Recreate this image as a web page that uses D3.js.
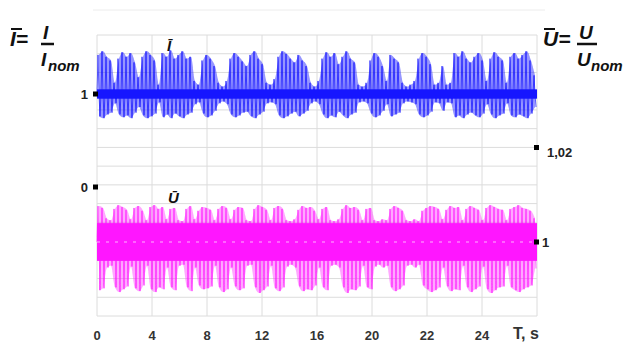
<!DOCTYPE html>
<html>
<head>
<meta charset="utf-8">
<script src="https://cdn.jsdelivr.net/npm/d3@7"></script>
<style>
  body { margin: 0; background: #fff; }
  text { font-family: "Liberation Sans", Arial, sans-serif; }
</style>
</head>
<body>
<div id="container"></div>
<script>
/* CONSTANTS AND GLOBALS */
const width = 634, height = 344;

/* DATA */
// x axis: 8 grid divisions, labels as printed
const xTickLabels = ["0", "4", "8", "12", "16", "20", "22", "24"];
const xTitle = "T, s";

// left axis marks (current, per unit) and right axis marks (voltage, per unit)
const iMarks = [1, 0];
const iMarkLabels = ["1", "0"];
const uMarks = [1.02, 1];
const uMarkLabels = ["1,02", "1"];

// current envelope, 110 bins across the record (upper / lower spike extent)
const iHi = [1.42,1.46,1.40,1.36,1.12,1.38,1.45,1.40,1.44,1.34,
  1.18,1.40,1.46,1.42,1.36,1.10,1.44,1.40,1.47,1.38,
  1.42,1.46,1.38,1.40,1.14,1.10,1.36,1.42,1.38,1.30,
  1.12,1.08,1.14,1.38,1.44,1.40,1.35,1.30,1.42,1.46,
  1.38,1.32,1.12,1.10,1.16,1.40,1.46,1.43,1.38,1.34,
  1.42,1.36,1.30,1.12,1.08,1.14,1.38,1.45,1.40,1.44,
  1.32,1.40,1.46,1.38,1.34,1.10,1.08,1.12,1.36,1.44,
  1.40,1.30,1.14,1.42,1.38,1.34,1.12,1.08,1.10,1.14,
  1.38,1.44,1.40,1.32,1.10,1.12,1.30,1.10,1.12,1.44,
  1.40,1.46,1.38,1.34,1.40,1.44,1.36,1.14,1.38,1.45,
  1.40,1.36,1.12,1.40,1.44,1.38,1.42,1.46,1.36,1.20];
const iLo = [0.76,0.74,0.78,0.80,0.90,0.78,0.75,0.77,0.74,0.80,
  0.86,0.77,0.74,0.76,0.79,0.91,0.75,0.78,0.74,0.79,
  0.76,0.74,0.78,0.80,0.89,0.91,0.79,0.75,0.77,0.82,
  0.90,0.92,0.89,0.78,0.75,0.77,0.80,0.81,0.76,0.74,
  0.78,0.81,0.90,0.91,0.89,0.77,0.74,0.76,0.79,0.81,
  0.76,0.79,0.82,0.90,0.92,0.89,0.78,0.74,0.77,0.75,
  0.81,0.77,0.74,0.78,0.80,0.91,0.92,0.90,0.79,0.75,
  0.77,0.82,0.89,0.76,0.78,0.80,0.90,0.92,0.91,0.89,
  0.78,0.75,0.77,0.81,0.91,0.90,0.82,0.91,0.90,0.75,
  0.77,0.74,0.78,0.80,0.77,0.75,0.79,0.89,0.78,0.74,
  0.77,0.79,0.90,0.77,0.75,0.78,0.76,0.74,0.79,0.86];
const iCore = 0.05;

// voltage envelope, 110 bins
const uHi = [1.0076,1.0072,1.0050,1.0046,1.0070,1.0078,1.0074,1.0068,1.0048,1.0072,
  1.0076,1.0066,1.0046,1.0074,1.0078,1.0070,1.0074,1.0048,1.0070,1.0072,
  1.0046,1.0044,1.0070,1.0076,1.0048,1.0066,1.0074,1.0072,1.0068,1.0046,
  1.0070,1.0076,1.0072,1.0048,1.0068,1.0074,1.0072,1.0046,1.0044,1.0070,
  1.0078,1.0074,1.0068,1.0046,1.0072,1.0076,1.0070,1.0046,1.0044,1.0048,
  1.0068,1.0076,1.0072,1.0074,1.0066,1.0048,1.0070,1.0074,1.0046,1.0044,
  1.0048,1.0070,1.0078,1.0072,1.0074,1.0068,1.0046,1.0070,1.0072,1.0046,
  1.0044,1.0048,1.0046,1.0070,1.0076,1.0072,1.0066,1.0046,1.0044,1.0048,
  1.0044,1.0066,1.0072,1.0076,1.0074,1.0070,1.0048,1.0068,1.0076,1.0072,
  1.0074,1.0046,1.0070,1.0076,1.0072,1.0068,1.0046,1.0072,1.0078,1.0074,
  1.0070,1.0068,1.0046,1.0070,1.0074,1.0078,1.0072,1.0070,1.0066,1.0050];
const uLo = [0.9898,0.9902,0.9946,0.9950,0.9904,0.9894,0.9900,0.9906,0.9948,0.9902,
  0.9896,0.9908,0.9950,0.9900,0.9894,0.9904,0.9900,0.9946,0.9904,0.9898,
  0.9950,0.9952,0.9904,0.9896,0.9946,0.9908,0.9900,0.9902,0.9906,0.9950,
  0.9904,0.9894,0.9900,0.9946,0.9906,0.9898,0.9902,0.9950,0.9952,0.9904,
  0.9892,0.9898,0.9906,0.9950,0.9902,0.9896,0.9904,0.9948,0.9952,0.9946,
  0.9906,0.9896,0.9900,0.9898,0.9908,0.9946,0.9904,0.9898,0.9950,0.9952,
  0.9946,0.9904,0.9892,0.9900,0.9898,0.9906,0.9950,0.9904,0.9900,0.9948,
  0.9952,0.9946,0.9950,0.9904,0.9896,0.9900,0.9908,0.9950,0.9952,0.9946,
  0.9952,0.9908,0.9900,0.9894,0.9898,0.9904,0.9946,0.9906,0.9896,0.9900,
  0.9898,0.9950,0.9904,0.9894,0.9900,0.9906,0.9948,0.9900,0.9892,0.9898,
  0.9904,0.9906,0.9950,0.9904,0.9898,0.9894,0.9900,0.9904,0.9908,0.9944];
const uCore = 0.0040;

const nBins = iHi.length;
const nDiv = 8;

/* SCALES */
const xScale = d3.scaleLinear().domain([0, nDiv]).range([97, 537]);
const yI = d3.scaleLinear().domain([0, 1]).range([187, 94]);
const yU = d3.scaleLinear().domain([1, 1.02]).range([242, 147.5]);
const gridY = d3.scaleLinear().domain([0, 15]).range([35, 316]);
const binX = k => xScale((k + 0.5) * nDiv / nBins);

// CREATE SVG ELEMENT
const svg = d3.select("#container")
  .append("svg")
  .attr("width", width)
  .attr("height", height);

const defs = svg.append("defs");
defs.append("filter").attr("id", "soft")
  .append("feGaussianBlur").attr("stdDeviation", 0.7);

// GRID
svg.append("line")
  .attr("x1", 93).attr("x2", 545).attr("y1", 10).attr("y2", 10)
  .attr("stroke", "#ececec");

svg.append("g")
  .selectAll("line")
  .data(d3.range(16))
  .join("line")
  .attr("x1", xScale(0)).attr("x2", xScale(nDiv))
  .attr("y1", d => gridY(d)).attr("y2", d => gridY(d))
  .attr("stroke", "#dcdcdc");

svg.append("g")
  .selectAll("line")
  .data(d3.range(nDiv + 1))
  .join("line")
  .attr("x1", d => xScale(d)).attr("x2", d => xScale(d))
  .attr("y1", gridY(0)).attr("y2", gridY(15))
  .attr("stroke", "#dcdcdc");

// SIGNAL DRAWING
function drawSignal(hi, lo, core, center, yScale, color, fillOp) {
  const g = svg.append("g").attr("filter", "url(#soft)");
  const bins = d3.range(nBins);

  const area = d3.area()
    .x(k => binX(k))
    .y0(k => yScale(lo[k]))
    .y1(k => yScale(hi[k]))
    .curve(d3.curveMonotoneX);
  g.append("path")
    .attr("d", area(bins))
    .attr("fill", color)
    .attr("fill-opacity", fillOp);

  // dense swings between the extents of each bin, crossing the centre line
  const pts = [];
  bins.forEach(k => {
    const x0 = xScale(k * nDiv / nBins);
    pts.push([x0, yScale(center)]);
    pts.push([x0 + 1, yScale(hi[k])]);
    pts.push([x0 + 2, yScale(center)]);
    pts.push([x0 + 3, yScale(lo[k])]);
  });
  g.append("path")
    .attr("d", d3.line()(pts))
    .attr("fill", "none")
    .attr("stroke", color)
    .attr("stroke-width", 1)
    .attr("stroke-opacity", 0.7);

  g.append("rect")
    .attr("x", xScale(0))
    .attr("width", xScale(nDiv) - xScale(0))
    .attr("y", yScale(center + core))
    .attr("height", yScale(center - core) - yScale(center + core))
    .attr("fill", color);
}

drawSignal(iHi, iLo, iCore, 1, yI, "#1212ff", 0.45);
drawSignal(uHi, uLo, uCore, 1, yU, "#ff18ff", 0.38);

// faint grid line showing through the voltage band
svg.append("line")
  .attr("x1", xScale(0)).attr("x2", xScale(nDiv))
  .attr("y1", yU(1)).attr("y2", yU(1))
  .attr("stroke", "#ffb0ff")
  .attr("stroke-dasharray", "3,6");

// AXIS MARKS
svg.append("g")
  .selectAll("rect")
  .data(iMarks)
  .join("rect")
  .attr("x", 93).attr("y", d => yI(d) - 2.5)
  .attr("width", 5).attr("height", 5)
  .attr("fill", "#000");
svg.append("g")
  .selectAll("text")
  .data(iMarks)
  .join("text")
  .attr("x", 88).attr("y", d => yI(d) + 5)
  .attr("text-anchor", "end")
  .attr("font-weight", "bold").attr("font-size", 13).attr("fill", "#222")
  .text((d, i) => iMarkLabels[i]);

svg.append("g")
  .selectAll("rect")
  .data(uMarks)
  .join("rect")
  .attr("x", 534).attr("y", d => yU(d) - 2.5)
  .attr("width", 5).attr("height", 5)
  .attr("fill", "#000");
svg.append("g")
  .selectAll("text")
  .data(uMarks)
  .join("text")
  .attr("x", (d, i) => i === 0 ? 547 : 542).attr("y", d => yU(d) + (d === 1 ? 5 : 9))
  .attr("font-weight", "bold").attr("font-size", 13).attr("fill", "#222")
  .text((d, i) => uMarkLabels[i]);

// X TICK LABELS
svg.append("g")
  .selectAll("text")
  .data(xTickLabels)
  .join("text")
  .attr("x", (d, i) => xScale(i))
  .attr("y", 340)
  .attr("text-anchor", "middle")
  .attr("font-weight", "bold").attr("font-size", 13).attr("fill", "#333")
  .text(d => d);

svg.append("text")
  .attr("x", 513).attr("y", 339)
  .attr("font-weight", "bold").attr("font-size", 16).attr("fill", "#333")
  .text(xTitle);

// FORMULAS
function formula(x, sym, nom) {
  const g = svg.append("g")
    .attr("font-weight", "bold").attr("font-style", "italic").attr("fill", "#111");
  g.append("text").attr("x", x).attr("y", 46).attr("font-size", 21).text(sym + "=");
  const fx = x + (sym === "U" ? 34 : 31);
  g.append("text").attr("x", fx + 2).attr("y", 39).attr("font-size", 19).text(sym);
  g.append("line")
    .attr("x1", fx).attr("x2", fx + (sym === "U" ? 20 : 13))
    .attr("y1", 44).attr("y2", 44)
    .attr("stroke", "#111").attr("stroke-width", 2.5);
  g.append("text").attr("x", fx).attr("y", 66).attr("font-size", 19).text(sym);
  g.append("text").attr("x", fx + (sym === "U" ? 14 : 7)).attr("y", 71).attr("font-size", 15).text(nom);
  // bar over the symbol
  g.append("line")
    .attr("x1", x + 1).attr("x2", x + 12)
    .attr("y1", 29).attr("y2", 29)
    .attr("stroke", "#111").attr("stroke-width", 2);
}
formula(10, "I", "nom");
formula(543, "U", "nom");

// series labels
svg.append("text").attr("x", 167).attr("y", 51)
  .attr("font-weight", "bold").attr("font-style", "italic").attr("font-size", 15).attr("fill", "#111")
  .text("Ī");
svg.append("text").attr("x", 168).attr("y", 203)
  .attr("font-weight", "bold").attr("font-style", "italic").attr("font-size", 15).attr("fill", "#111")
  .text("Ū");
</script>
</body>
</html>
